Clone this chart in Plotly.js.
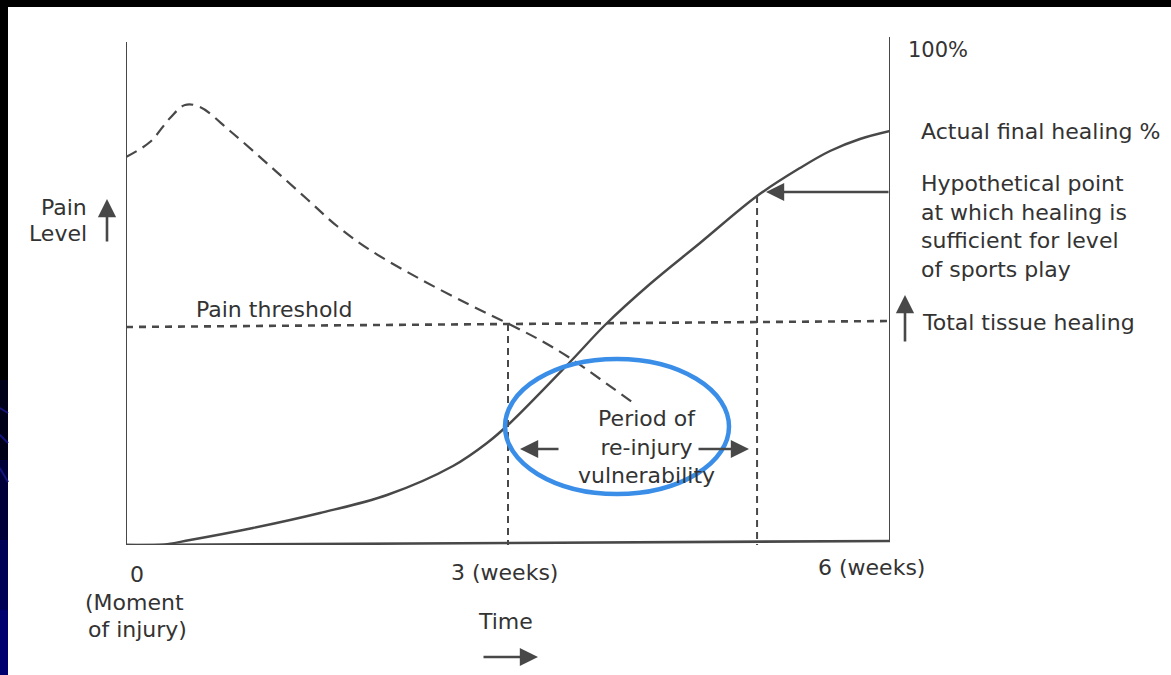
<!DOCTYPE html>
<html>
<head>
<meta charset="utf-8">
<script src="https://cdn.plot.ly/plotly-3.0.1.min.js"></script>
<style>
html,body{margin:0;padding:0;background:#fff;}
#chart{width:1171px;height:675px;}
</style>
</head>
<body>
<div id="chart"></div>
<script>
// ---- Data (time in weeks, level in % of full healing) ----
const healingWeeks = [0, 0.267, 0.503, 0.997, 1.524, 2.050, 2.568, 2.835, 3.008, 3.487, 3.762, 4.115, 4.508, 4.956, 5.293, 5.529, 5.764, 6.0];
const healingLevel = [0, 0, 1.0, 3.4, 6.4, 10.0, 15.8, 20.4, 24.2, 36.6, 44.0, 52.2, 60.4, 69.8, 75.4, 78.8, 81.2, 82.8];

const painWeeks = [0, 0.188, 0.346, 0.463, 0.581, 0.817, 1.131, 1.421, 1.657, 1.916, 2.309, 2.702, 2.992, 3.251, 3.487, 3.723, 3.974];
const painLevel = [77.6, 80.6, 85.4, 88, 87.6, 82.8, 75.8, 69.2, 63.8, 59, 53.2, 48, 44.4, 41, 37.4, 33.2, 28.6];

const thresholdWeeks = [0, 6];
const thresholdLevel = [43.6, 44.8];

const reinjuryStartWeek = 3.0;       // pain crosses threshold
const sportsReadyWeek = 4.956;       // hypothetical point
const sportsReadyLevel = 69.8;

const tickLabels = ["0", "3 (weeks)", "6 (weeks)"];

// ---- Pixel helpers for text / decoration placement ----
const PL = 126, PR = 890, PB = 545, PT = 37;
const W = PR - PL, H = PB - PT;
const px = v => (v - PL) / W;
const py = v => (PB - v) / H;

const INK = '#484848';
const TXT = '#333333';
const FONT = 'DejaVu Sans, sans-serif';

const thrAt = w => thresholdLevel[0] + (thresholdLevel[1] - thresholdLevel[0]) * w / 6;

const traces = [
  {x: healingWeeks, y: healingLevel, mode: 'lines', line: {color: INK, width: 2.4, shape: 'spline', smoothing: 1}, hoverinfo: 'skip'},
  {x: painWeeks, y: painLevel, mode: 'lines', line: {color: INK, width: 2.2, dash: '12px,7px', shape: 'spline', smoothing: 1}, hoverinfo: 'skip'},
  {x: thresholdWeeks, y: thresholdLevel, mode: 'lines', line: {color: INK, width: 2.6, dash: '7px,6px'}, hoverinfo: 'skip'},
  {x: [reinjuryStartWeek, reinjuryStartWeek], y: [thrAt(reinjuryStartWeek), 0], mode: 'lines', line: {color: INK, width: 2, dash: '7px,5px'}, hoverinfo: 'skip'},
  {x: [sportsReadyWeek, sportsReadyWeek], y: [sportsReadyLevel, 0], mode: 'lines', line: {color: INK, width: 2, dash: '7px,5px'}, hoverinfo: 'skip'}
];

function txt(text, xp, yp, xanchor, extra) {
  return Object.assign({
    text: text, xref: 'paper', yref: 'paper', x: px(xp), y: py(yp),
    xanchor: xanchor || 'center', yanchor: 'middle', showarrow: false,
    font: {family: FONT, size: 22, color: TXT}
  }, extra || {});
}
function arrow(hx, hy, ax, ay) {
  return {
    text: '', xref: 'paper', yref: 'paper', x: px(hx), y: py(hy),
    ax: ax, ay: ay, showarrow: true, arrowhead: 2, arrowsize: 1.4,
    arrowwidth: 2.6, arrowcolor: INK
  };
}

const annotations = [
  txt('100%', 906, 50, 'left', {font: {family: FONT, size: 21, color: TXT}}),
  txt('Actual final healing %', 919, 131, 'left'),
  txt('Hypothetical point<br>at which healing is<br>sufficient for level<br>of sports play', 919, 226, 'left', {align: 'left'}),
  txt('Total tissue healing', 920, 322, 'left'),
  txt('Pain threshold', 274, 310),
  txt('Period of<br>re-injury<br>vulnerability', 646, 447, 'center', {align: 'center'}),
  txt('Pain', 89, 208, 'right'),
  txt('Level', 89, 233, 'right'),
  txt(tickLabels[0], 137, 574),
  txt('(Moment', 134, 602),
  txt('of injury)', 137, 629),
  txt(tickLabels[1], 504, 572),
  txt(tickLabels[2], 871, 567),
  txt('Time', 505, 621),
  arrow(538, 657, -56, 0),
  arrow(766, 192, 124, 0),
  arrow(520, 449, 40, 0),
  arrow(749, 449, -52, 0),
  arrow(905, 295, 0, 48),
  arrow(107, 199, 0, 44)
];

const shapes = [
  // frame
  {type: 'line', xref: 'x', yref: 'y', x0: 0, y0: 0, x1: 0, y1: 100.6, line: {color: INK, width: 2}},
  {type: 'line', xref: 'x', yref: 'y', x0: 6, y0: 0.8, x1: 6, y1: 101.6, line: {color: INK, width: 2}},
  {type: 'line', xref: 'x', yref: 'y', x0: 0, y0: 0, x1: 6, y1: 0.8, line: {color: INK, width: 2.6}},
  // blue highlight ellipse
  {type: 'circle', xref: 'paper', yref: 'paper', x0: px(505), x1: px(729), y0: py(494), y1: py(359),
   line: {color: 'rgb(58,142,232)', width: 4.5}, layer: 'above'},
  // slide border: top black band
  {type: 'rect', xref: 'paper', yref: 'paper', x0: px(-2), x1: px(1173), y0: py(7), y1: py(-2), fillcolor: '#000', line: {width: 0}},
  // left band gradient
  {type: 'rect', xref: 'paper', yref: 'paper', x0: px(-2), x1: px(8), y0: py(380), y1: py(-2), fillcolor: '#000', line: {width: 0}},
  {type: 'rect', xref: 'paper', yref: 'paper', x0: px(-2), x1: px(8), y0: py(460), y1: py(380), fillcolor: '#000018', line: {width: 0}},
  {type: 'rect', xref: 'paper', yref: 'paper', x0: px(-2), x1: px(8), y0: py(540), y1: py(460), fillcolor: '#000038', line: {width: 0}},
  {type: 'rect', xref: 'paper', yref: 'paper', x0: px(-2), x1: px(8), y0: py(610), y1: py(540), fillcolor: '#000056', line: {width: 0}},
  {type: 'rect', xref: 'paper', yref: 'paper', x0: px(-2), x1: px(8), y0: py(677), y1: py(610), fillcolor: '#00006e', line: {width: 0}},
  {type: 'line', xref: 'paper', yref: 'paper', x0: px(-2), y0: py(407), x1: px(8), y1: py(413), line: {color: '#14147a', width: 2}},
  {type: 'line', xref: 'paper', yref: 'paper', x0: px(-2), y0: py(433), x1: px(8), y1: py(443), line: {color: '#14147a', width: 2}},
  {type: 'line', xref: 'paper', yref: 'paper', x0: px(-2), y0: py(465), x1: px(8), y1: py(482), line: {color: '#14147a', width: 2}}
];

const layout = {
  width: 1171, height: 675,
  margin: {l: PL, r: 1171 - PR, t: PT, b: 675 - PB, pad: 0},
  paper_bgcolor: '#ffffff', plot_bgcolor: '#ffffff',
  showlegend: false,
  xaxis: {range: [0, 6], visible: false, fixedrange: true},
  yaxis: {range: [0, H / 5], visible: false, fixedrange: true},
  annotations: annotations,
  shapes: shapes
};

Plotly.newPlot('chart', traces, layout, {displayModeBar: false, staticPlot: true});
</script>
</body>
</html>
